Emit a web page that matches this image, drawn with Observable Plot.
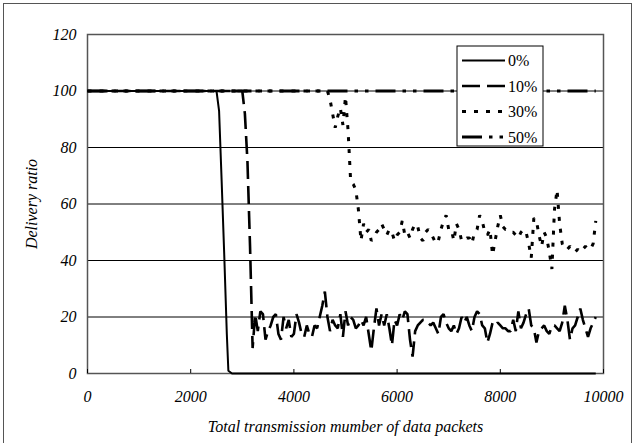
<!DOCTYPE html>
<html><head><meta charset="utf-8">
<script src="https://cdn.jsdelivr.net/npm/d3@7"></script>
<script src="https://cdn.jsdelivr.net/npm/@observablehq/plot@0.6"></script>
<style>
html,body{margin:0;padding:0;background:#fff;font-family:"Liberation Serif",serif;}
#wrap{position:relative;width:634px;height:443px;overflow:hidden;background:#fff;}
#border{position:absolute;left:3px;top:3px;width:629px;height:450px;border:1.5px solid #555;box-sizing:border-box;pointer-events:none;}
#legend{position:absolute;left:0;top:0;pointer-events:none;}
</style></head><body>
<div id="wrap"><div id="chart"></div><div id="border"></div><svg id="legend" width="634" height="443"></svg></div>
<script>
// ---- data ----
const seriesNames = ["0%", "10%", "30%", "50%"];

const x0 = [0, 2500, 2550, 2600, 2650, 2700, 2730, 2800, 9850];
const y0 = [100, 100, 93, 68, 42, 14, 1, 0, 0];

const x10 = [0, 3000, 3050, 3100, 3150, ...d3.range(3200, 9851, 50)];
const y10 = [100, 100, 92, 75, 45,
  9, 21, 15, 22, 21, 12, 15, 17, 20, 21,
  14, 12, 20, 16, 19, 13, 14, 21, 18, 14,
  13, 17, 14, 13, 17, 16, 20, 24, 29, 20,
  15, 19, 17, 16, 21, 13, 22, 17, 20, 19,
  16, 17, 19, 17, 20, 14, 8, 16, 23, 17,
  21, 17, 21, 16, 10, 19, 17, 21, 19, 22,
  21, 12, 6, 15, 17, 18, 19, 19, 18, 17,
  18, 16, 14, 20, 21, 18, 16, 15, 17, 14,
  16, 20, 18, 20, 17, 15, 20, 22, 21, 17,
  16, 11, 14, 18, 17, 18, 17, 16, 16, 15,
  15, 19, 15, 22, 16, 18, 21, 23, 17, 16,
  11, 15, 16, 17, 15, 14, 17, 17, 16, 15,
  18, 24, 19, 12, 16, 17, 20, 23, 19, 16,
  13, 16, 18, 20];

const x30 = [0, 4650, ...d3.range(4700, 9851, 50)];
const y30 = [100, 100,
  97, 92, 87, 91, 94, 88, 98, 86, 68, 67, 65, 58, 47,
  53, 50, 51, 47, 48, 50, 51, 53, 51, 49,
  51, 50, 47, 49, 50, 54, 49, 50, 48, 51,
  53, 52, 48, 47, 50, 51, 50, 48, 46, 47,
  51, 54, 56, 51, 51, 47, 53, 51, 47, 47,
  48, 48, 46, 50, 51, 56, 54, 50, 49, 51,
  42, 47, 52, 56, 52, 51, 51, 50, 50, 49,
  48, 50, 51, 50, 46, 41, 55, 54, 49, 45,
  50, 48, 43, 37, 58, 65, 53, 46, 44, 44,
  45, 44, 43, 44, 43, 44, 45, 44, 44, 46,
  54];

const x50 = [0, 9850];
const y50 = [100, 100];

const xTicks = [0, 2000, 4000, 6000, 8000, 10000];
const yTicks = [0, 20, 40, 60, 80, 100, 120];
const gridValues = [20, 40, 60, 80, 100];

// ---- styles ----
const lineStyle = {
  "0%":  {strokeWidth: 2, dash: null},
  "10%": {strokeWidth: 2.6, dash: "18,7"},
  "30%": {strokeWidth: 3, dash: "4,8"},
  "50%": {strokeWidth: 3, dash: "20,7,3.5,7,3.5,7"}
};
const seriesXY = {"0%": [x0, y0], "10%": [x10, y10], "30%": [x30, y30], "50%": [x50, y50]};
const toRows = (xs, ys) => xs.map((x, i) => ({x, y: ys[i]}));

const serif = "Liberation Serif";

const lineMarks = seriesNames.map(name => {
  const st = lineStyle[name];
  const [xs, ys] = seriesXY[name];
  return Plot.line(toRows(xs, ys), {
    x: "x", y: "y", stroke: "#000", strokeWidth: st.strokeWidth,
    strokeDasharray: st.dash, strokeLinecap: "butt", strokeLinejoin: "miter"
  });
});

const chart = Plot.plot({
  width: 634, height: 443,
  marginLeft: 87, marginRight: 31, marginTop: 34, marginBottom: 70,
  style: {fontFamily: serif, fontStyle: "italic", fontSize: "16px", color: "#000", background: "transparent", overflow: "visible"},
  x: {domain: [0, 10000]},
  y: {domain: [0, 120]},
  marks: [
    Plot.ruleY(gridValues, {stroke: "#000", strokeWidth: 1}),
    Plot.frame({stroke: "#555", strokeWidth: 1.5}),
    Plot.axisX({ticks: xTicks, tickSize: 0, tickPadding: 17, tickFormat: d => String(d), fontSize: 16, fontFamily: serif,
      label: "Total transmission mumber of data packets", labelAnchor: "center", labelArrow: "none", labelOffset: 58}),
    Plot.axisX({ticks: xTicks, tickSize: -4, text: null, label: null}),
    Plot.axisY({ticks: yTicks, tickSize: 0, tickPadding: 11, tickFormat: d => String(d), fontSize: 16, fontFamily: serif,
      label: "Delivery ratio", labelAnchor: "center", labelArrow: "none", labelOffset: 62}),
    ...lineMarks
  ]
});
d3.select(chart).attr("font-family", serif).style("font-family", serif);
d3.select(chart).selectAll("text, g").attr("font-family", serif).style("font-family", serif).style("font-style", "italic");
document.getElementById("chart").appendChild(chart);

// ---- legend ----
const lg = d3.select("#legend");
const box = {x: 457, y: 46, w: 86, h: 100};
lg.append("rect").attr("x", box.x).attr("y", box.y).attr("width", box.w).attr("height", box.h)
  .attr("fill", "#fff").attr("stroke", "#000").attr("stroke-width", 1);
seriesNames.forEach((name, i) => {
  const cy = 60.5 + i * 25.5;
  const st = lineStyle[name];
  lg.append("line").attr("x1", 462).attr("x2", 505).attr("y1", cy).attr("y2", cy)
    .attr("stroke", "#000").attr("stroke-width", st.strokeWidth)
    .attr("stroke-dasharray", st.dash);
  lg.append("text").attr("x", 508).attr("y", cy).attr("dy", "0.35em")
    .attr("font-size", 16).attr("font-family", serif).style("font-family", serif).text(name);
});
</script>
</body></html>
